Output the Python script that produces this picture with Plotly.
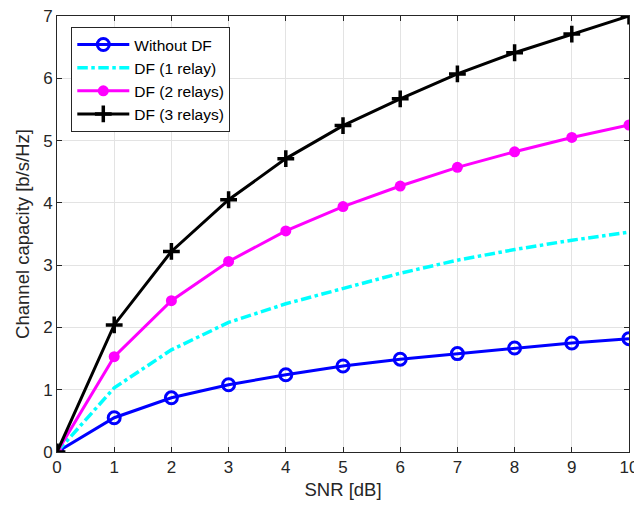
import plotly.graph_objects as go

snr = [0, 1, 2, 3, 4, 5, 6, 7, 8, 9, 10]
without_df = [0, 0.55, 0.87, 1.08, 1.24, 1.38, 1.49, 1.58, 1.67, 1.75, 1.82]
df_1relay = [0, 1.03, 1.64, 2.08, 2.38, 2.63, 2.87, 3.08, 3.25, 3.40, 3.53]
df_2relays = [0, 1.53, 2.43, 3.06, 3.55, 3.94, 4.27, 4.57, 4.82, 5.05, 5.25]
df_3relays = [0, 2.04, 3.22, 4.05, 4.71, 5.24, 5.67, 6.07, 6.41, 6.71, 7.0]
x_ticks = [0, 1, 2, 3, 4, 5, 6, 7, 8, 9, 10]
y_ticks = [0, 1, 2, 3, 4, 5, 6, 7]

FONT = "Liberation Sans, Arial"

fig = go.Figure()
fig.add_trace(go.Scatter(
    x=snr, y=without_df, name="Without DF", mode="lines+markers",
    line=dict(color="#0000ff", width=3),
    marker=dict(symbol="circle-open", size=12, color="#0000ff", line=dict(width=3)),
))
fig.add_trace(go.Scatter(
    x=snr, y=df_1relay, name="DF (1 relay)", mode="lines",
    line=dict(color="#00ffff", width=3.5, dash="dashdot"),
))
fig.add_trace(go.Scatter(
    x=snr, y=df_2relays, name="DF (2 relays)", mode="lines+markers",
    line=dict(color="#ff00ff", width=3),
    marker=dict(symbol="circle", size=11, color="#ff00ff"),
))
fig.add_trace(go.Scatter(
    x=snr, y=df_3relays, name="DF (3 relays)", mode="lines+markers",
    line=dict(color="#000000", width=3),
    marker=dict(symbol="cross-thin", size=12, color="#000000", line=dict(width=3.5, color="#000000")),
))

axis_common = dict(
    showgrid=True, gridcolor="#e3e3e3", gridwidth=1,
    showline=True, linecolor="#262626", linewidth=1, mirror="ticks",
    ticks="inside", ticklen=5, tickcolor="#262626",
    zeroline=False, automargin=False,
    ticklabeloverflow="allow",
    tickfont=dict(family=FONT, size=17, color="#262626"),
)

fig.update_xaxes(
    range=[0, 10], tickvals=x_ticks, ticktext=[str(v) for v in x_ticks],
    title=dict(text="SNR [dB]", font=dict(family=FONT, size=18.5, color="#262626"), standoff=6),
    **axis_common,
)
fig.update_yaxes(
    range=[0, 7], tickvals=y_ticks, ticktext=[str(v) for v in y_ticks],
    title=dict(text="Channel capacity [b/s/Hz]", font=dict(family=FONT, size=18.5, color="#262626"), standoff=8),
    **axis_common,
)

fig.update_layout(
    width=634, height=508,
    margin=dict(l=57, r=5, t=16, b=56),
    paper_bgcolor="white", plot_bgcolor="white",
    font=dict(family=FONT, color="#262626"),
    legend=dict(
        x=0.025, y=0.975, xanchor="left", yanchor="top",
        bgcolor="white", bordercolor="#262626", borderwidth=1,
        font=dict(family=FONT, size=15.5, color="#000000"),
        itemwidth=52, tracegroupgap=0,
    ),
    showlegend=True,
)

fig.write_html("out.html", config={"displayModeBar": False},
               post_script="document.body.style.margin='0';")
